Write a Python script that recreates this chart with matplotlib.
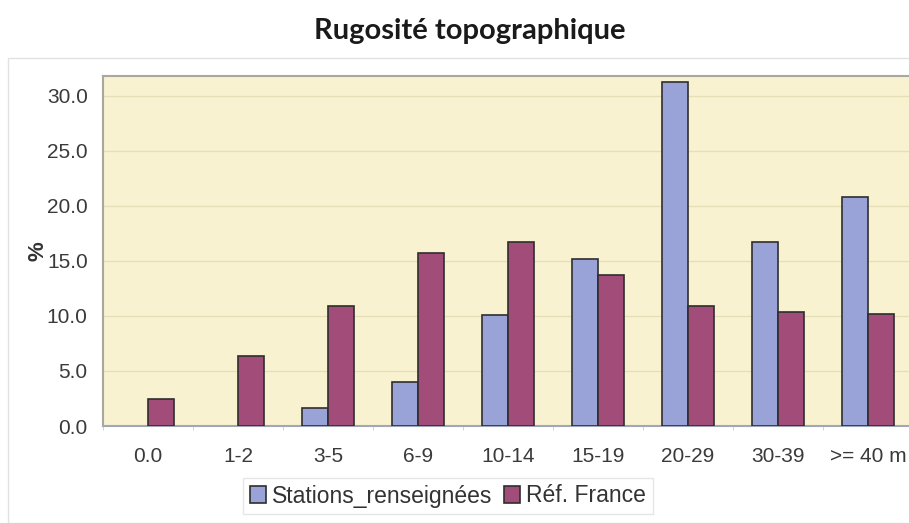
import numpy as np
import matplotlib
matplotlib.use("Agg")
import matplotlib.pyplot as plt
from matplotlib.patches import Rectangle

# données
categories = ["0.0", "1-2", "3-5", "6-9", "10-14", "15-19", "20-29", "30-39", ">= 40 m"]
stations = [0.0, 0.0, 1.6, 4.0, 10.1, 15.2, 31.3, 16.7, 20.8]
ref_france = [2.45, 6.4, 10.9, 15.7, 16.7, 13.7, 10.9, 10.4, 10.2]
yticks = [0, 5, 10, 15, 20, 25, 30]

plt.rcParams['font.family'] = ['Liberation Sans', 'DejaVu Sans']

fig = plt.figure(figsize=(9.09, 5.23), dpi=100)
fig.patch.set_facecolor("white")

# cadre de la zone graphique
fig.patches.append(Rectangle((8 / 909, 0.0), 1.0, 1 - 58 / 523, transform=fig.transFigure,
                             fill=False, edgecolor="#e2e2e2", linewidth=1.0))

ax = fig.add_axes([103 / 909, 1 - 426 / 523, 810 / 909, 350 / 523])
ax.set_facecolor("#f8f2d0")

x = np.arange(len(categories))
w = 0.29
# les barres nulles ne sont pas dessinées
st = np.array(stations)
st = np.where(st > 0, st, np.nan)
ax.bar(x - w / 2, st, w, color="#9aa3d8", edgecolor="#2e2e2e", linewidth=1.2,
       label="Stations_renseignées", zorder=3)
ax.bar(x + w / 2, ref_france, w, color="#a24d79", edgecolor="#2e2e2e", linewidth=1.2,
       label="Réf. France", zorder=3)

ax.set_xlim(-0.5, len(categories) - 0.5)
ax.set_ylim(0, 31.8)
ax.set_yticks(yticks)
ax.set_yticklabels([f"{v:.1f}" for v in yticks])
ax.set_xticks(x)
ax.set_xticklabels(categories)
ax.set_xticks(np.arange(len(categories) + 1) - 0.5, minor=True)
ax.tick_params(axis="x", which="major", length=0, pad=15, labelsize=15, colors="#3a3a3a")
ax.tick_params(axis="x", which="minor", length=3, color="#cccccc")
ax.tick_params(axis="y", length=0, pad=11, labelsize=15, colors="#3a3a3a")
ax.grid(axis="y", color="#e6deb6", linewidth=1.0, zorder=0)

ax.spines["right"].set_visible(False)
ax.spines["top"].set_color("#a8a8a0")
ax.spines["top"].set_linewidth(1.5)
ax.spines["left"].set_color("#a8a8a0")
ax.spines["left"].set_linewidth(1.5)
ax.spines["bottom"].set_color("#a0a8b8")
ax.spines["bottom"].set_linewidth(1.5)

ax.set_ylabel("%", fontsize=16, fontweight="bold", color="#333333", labelpad=-1)

fig.text(470 / 909, 1 - 31 / 523, "Rugosité topographique", ha="center", va="center",
         fontsize=21, fontweight="bold", family=["Lato", "DejaVu Sans"], color="#1a1a1a")

leg = fig.legend(loc="center", bbox_to_anchor=(448 / 909, 1 - 496 / 523), ncol=2,
                 fontsize=16.5, frameon=True, handlelength=0.7, handleheight=0.7,
                 handletextpad=0.25, columnspacing=0.5, borderpad=0.3, fancybox=False)
leg.get_frame().set_edgecolor("#e0e0e0")
leg.get_frame().set_linewidth(1.0)
for t in leg.get_texts():
    t.set_color("#333333")

fig.savefig("out.png", dpi=100)
